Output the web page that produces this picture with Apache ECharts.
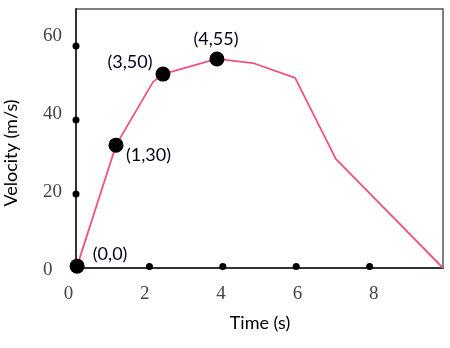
<!DOCTYPE html>
<html>
<head>
<meta charset="utf-8">
<script src="https://cdn.jsdelivr.net/npm/echarts@6/dist/echarts.min.js"></script>
<style>
  html, body { margin: 0; padding: 0; background: #fff; }
  #chart { width: 450px; height: 348px; }
</style>
</head>
<body>
<div id="chart"></div>
<script>
// Velocity profile: time (s) vs velocity (m/s)
const curveTime = [0.03, 1.09, 2.10, 2.37, 3.84, 4.82, 5.97, 7.08, 10];
const curveVelocity = [0.5, 33.2, 50.3, 52.4, 56.5, 55.4, 51.4, 29.5, 0];

// Highlighted points and their captions
const markTime = [0.03, 1.09, 2.37, 3.84];
const markVelocity = [0.5, 33.2, 52.4, 56.5];
const markCaptions = ['(0,0)', '(1,30)', '(3,50)', '(4,55)'];

// Small dots along the axes
const xDotTimes = [2, 4, 6, 8];
const yDotVelocities = [20, 40, 60];

// Tick labels
const xTickLabels = [0, 2, 4, 6, 8];
const yTickLabels = [0, 20, 40, 60];

// Caption placement relative to each highlighted point
const captionOffsets = [[33, -11.5], [32.5, 10], [-33, -11.5], [-1, -19.5]];

const serif = 'Liberation Serif';
const sans = 'Lato';

const chart = echarts.init(document.getElementById('chart'), null, { renderer: 'canvas' });

const curveData = curveTime.map((t, i) => [t, curveVelocity[i]]);
const markData = markTime.map((t, i) => ({
  value: [t, markVelocity[i]],
  label: { offset: captionOffsets[i], formatter: markCaptions[i] }
}));
const axisDots = xDotTimes.map(t => [t, 0.4]).concat(yDotVelocities.map(v => [0, v]));

const hiddenAxis = {
  axisLine: { show: false }, axisTick: { show: false }, splitLine: { show: false }
};

chart.setOption({
  animation: false,
  backgroundColor: '#ffffff',
  grid: [
    {
      left: 76, right: 7, top: 9, bottom: 80,
      show: true, borderColor: '#555', borderWidth: 1.5, backgroundColor: 'transparent'
    },
    // tick-label scale, laid out slightly wider than the plot frame
    { left: 68.5, width: 387.5, top: 12.8, bottom: 77.8, show: false }
  ],
  xAxis: [
    {
      type: 'value', min: 0, max: 10, gridIndex: 0,
      axisLine: { show: true, onZero: false, lineStyle: { color: '#333', width: 2 } },
      axisTick: { show: false }, axisLabel: { show: false }, splitLine: { show: false }
    },
    Object.assign({
      type: 'value', min: 0, max: 10, gridIndex: 1, position: 'bottom',
      axisLabel: {
        show: true, customValues: xTickLabels, margin: 14,
        fontFamily: serif, fontSize: 19, color: '#444'
      }
    }, hiddenAxis)
  ],
  yAxis: [
    {
      type: 'value', min: 0, max: 70, gridIndex: 0,
      axisLine: { show: true, onZero: false, lineStyle: { color: '#333', width: 2 } },
      axisTick: { show: false }, axisLabel: { show: false }, splitLine: { show: false }
    },
    Object.assign({
      type: 'value', min: 0, max: 66, gridIndex: 1, position: 'left',
      axisLabel: {
        show: true, customValues: yTickLabels, margin: 25.5, align: 'left',
        fontFamily: serif, fontSize: 19, color: '#444'
      }
    }, hiddenAxis)
  ],
  graphic: [
    {
      type: 'text', x: 11, y: 153, rotation: Math.PI / 2,
      style: {
        text: 'Velocity (m/s)', fontFamily: sans, fontSize: 18, fill: '#000',
        align: 'center', verticalAlign: 'middle'
      }
    },
    {
      type: 'text', x: 260, y: 323,
      style: {
        text: 'Time (s)', fontFamily: sans, fontSize: 18, fill: '#000',
        align: 'center', verticalAlign: 'middle'
      }
    }
  ],
  series: [
    {
      type: 'line', data: curveData, xAxisIndex: 0, yAxisIndex: 0,
      showSymbol: false, smooth: false,
      lineStyle: { color: '#f2527d', width: 1.8 }, z: 2
    },
    {
      type: 'scatter', data: axisDots, xAxisIndex: 0, yAxisIndex: 0,
      symbolSize: 7, itemStyle: { color: '#000', opacity: 1 }, z: 3
    },
    {
      type: 'scatter', data: markData, xAxisIndex: 0, yAxisIndex: 0,
      symbolSize: 15, itemStyle: { color: '#000', opacity: 1 }, z: 4,
      label: {
        show: true, position: 'inside', fontFamily: sans, fontSize: 18, color: '#000018'
      }
    }
  ]
});
</script>
</body>
</html>
